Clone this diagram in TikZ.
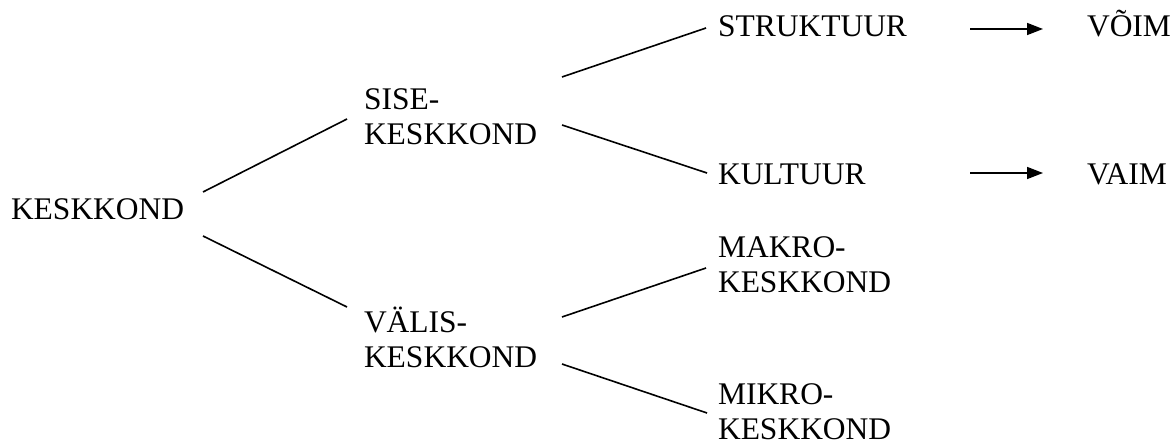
\documentclass[tikz,border=0pt]{standalone}
\usepackage{fontspec}
\setmainfont{Liberation Serif}
\usetikzlibrary{calc,arrows.meta}
\newcommand{\twoline}[2]{\begin{tabular}[t]{@{}l@{}}#1\\#2\end{tabular}}
\tikzset{
  lbl/.style={anchor=base west, inner sep=0pt, outer sep=0pt, font=\fontsize{31.5}{35}\selectfont},
  conn/.style={line width=1.6pt},
  arr/.style={line width=1.6pt, -{Triangle[length=16pt,width=12pt]}}
}
\begin{document}
\begin{tikzpicture}[x=1pt,y=-1pt]
\useasboundingbox (0,0) rectangle (1176,443);
\node[lbl] (root) at (11,220) {KESKKOND};
\node[lbl] (sise) at (364,110) {\twoline{SISE-}{KESKKOND}};
\node[lbl] (valis) at (364,333) {\twoline{VÄLIS-}{KESKKOND}};
\node[lbl] (struk) at (718,37) {STRUKTUUR};
\node[lbl] (kult) at (718,185) {KULTUUR};
\node[lbl] (voim) at (1087,37) {VÕIM};
\node[lbl] (vaim) at (1087,185) {VAIM};
\node[lbl] (makro) at (718,258) {\twoline{MAKRO-}{KESKKOND}};
\node[lbl] (mikro) at (718,405) {\twoline{MIKRO-}{KESKKOND}};
\draw[conn] ($(root.base west)+(192,-28)$) -- ($(sise.base west)+(-17,9)$);
\draw[conn] ($(root.base west)+(192,16)$) -- ($(valis.base west)+(-17,-26)$);
\draw[conn] ($(sise.base west)+(198,-33)$) -- ($(struk.base west)+(-12,-9)$);
\draw[conn] ($(sise.base west)+(198,15)$) -- ($(kult.base west)+(-11,-12)$);
\draw[conn] ($(valis.base west)+(198,-16)$) -- ($(makro.base west)+(-12,10)$);
\draw[conn] ($(valis.base west)+(198,31)$) -- ($(mikro.base west)+(-11,8)$);
\draw[arr] ($(struk.base west)+(252,-8)$) -- ($(voim.base west)+(-44,-8)$);
\draw[arr] ($(kult.base west)+(252,-12)$) -- ($(vaim.base west)+(-44,-12)$);
\end{tikzpicture}
\end{document}
